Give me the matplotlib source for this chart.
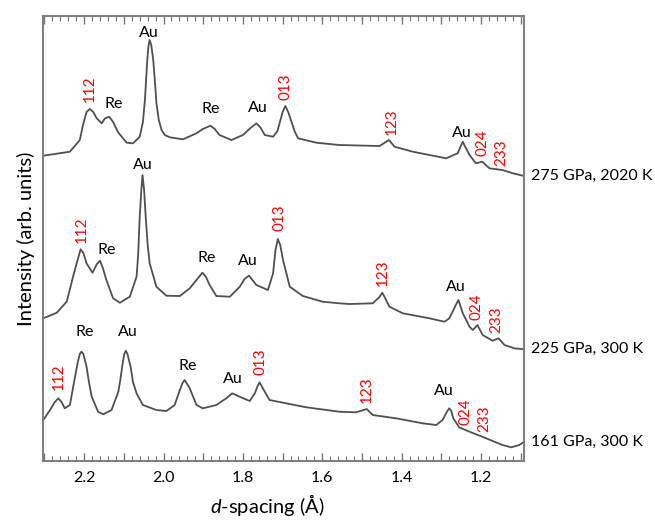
import matplotlib
matplotlib.use("Agg")
import matplotlib.pyplot as plt
from matplotlib.ticker import MultipleLocator, FuncFormatter

plt.rcParams['font.family'] = ['Lato', 'DejaVu Sans']
plt.rcParams['mathtext.fontset'] = 'custom'
plt.rcParams['mathtext.it'] = 'Lato:italic'
plt.rcParams['mathtext.rm'] = 'Lato'

# traces (d-spacing in Angstrom, stacked intensity in arb. units)
d_275 = [2.303, 2.236, 2.211, 2.203, 2.194, 2.186, 2.177, 2.169, 2.156, 2.148,
         2.137, 2.127, 2.115, 2.093, 2.077, 2.060, 2.052, 2.047, 2.041, 2.038,
         2.035, 2.031, 2.026, 2.022, 2.018, 2.012, 2.005, 1.997, 1.984, 1.951,
         1.917, 1.901, 1.882, 1.871, 1.859, 1.829, 1.800, 1.781, 1.766, 1.755,
         1.745, 1.724, 1.713, 1.700, 1.693, 1.686, 1.669, 1.661, 1.615, 1.557,
         1.456, 1.432, 1.418, 1.372, 1.288, 1.259, 1.251, 1.246, 1.241, 1.229,
         1.213, 1.197, 1.179, 1.146, 1.120, 1.091]
i_275 = [305.3, 309.3, 321, 336, 349, 352, 349, 343, 337.7, 342.5,
         344.3, 339, 329, 318.3, 317.7, 324.3, 339, 361, 401, 415,
         421, 416, 401, 381, 358, 341, 331, 326, 323.7, 321.7,
         327.7, 332, 335.3, 332, 326, 321, 326, 333, 337.7, 333,
         326, 324.3, 330, 349, 355, 349, 329, 322.7, 318.3, 316,
         315, 321, 314.3, 309.3, 302.7, 307.7, 315, 319.3, 315, 306,
         297.7, 299.3, 292.7, 291, 287.7, 285]

d_225 = [2.303, 2.269, 2.244, 2.228, 2.218, 2.209, 2.202, 2.194, 2.179, 2.168,
         2.160, 2.153, 2.144, 2.127, 2.110, 2.085, 2.068, 2.064, 2.060, 2.056,
         2.053, 2.049, 2.045, 2.040, 2.035, 2.018, 1.993, 1.959, 1.934, 1.913,
         1.902, 1.893, 1.884, 1.867, 1.833, 1.808, 1.796, 1.785, 1.776, 1.766,
         1.737, 1.724, 1.718, 1.712, 1.706, 1.699, 1.682, 1.649, 1.599, 1.557,
         1.531, 1.473, 1.456, 1.449, 1.443, 1.431, 1.397, 1.330, 1.292, 1.280,
         1.265, 1.257, 1.246, 1.229, 1.221, 1.209, 1.196, 1.171, 1.156, 1.141,
         1.116, 1.091]
i_225 = [142.7, 148.3, 159.3, 184.3, 199, 211.7, 208, 197.7, 188.3, 197,
         200.3, 193, 181, 162.7, 158.3, 164.3, 184.3, 206, 244.3, 271,
         286, 271, 244.3, 216, 197.7, 174.3, 165.3, 165, 172.7, 183,
         188.3, 184, 176, 165, 164.3, 174.3, 182, 185.3, 181, 176,
         171, 187.7, 211, 222, 216, 201, 174.3, 165, 159.3, 157.7,
         157, 157.7, 164, 168.3, 164, 154.3, 147.7, 142.7, 139.3, 142.7,
         155, 161, 147.7, 134.3, 131, 136, 126, 120.3, 122.7, 116,
         112.7, 111.7]

d_161 = [2.303, 2.286, 2.274, 2.265, 2.257, 2.249, 2.236, 2.223, 2.216, 2.211,
         2.207, 2.202, 2.194, 2.188, 2.181, 2.165, 2.152, 2.131, 2.114, 2.109,
         2.103, 2.099, 2.095, 2.091, 2.083, 2.077, 2.068, 2.052, 2.018, 1.993,
         1.972, 1.959, 1.952, 1.947, 1.942, 1.934, 1.917, 1.901, 1.867, 1.842,
         1.827, 1.808, 1.783, 1.770, 1.763, 1.758, 1.753, 1.745, 1.733, 1.691,
         1.640, 1.557, 1.515, 1.488, 1.473, 1.414, 1.347, 1.313, 1.297, 1.285,
         1.280, 1.275, 1.270, 1.255, 1.229, 1.187, 1.146, 1.124, 1.104, 1.091]
i_161 = [41, 51, 59, 62.7, 59, 52.7, 56, 84.3, 99, 107,
         109.3, 107, 94.3, 79, 64.3, 49.3, 46.7, 51, 69.3, 81,
         97.7, 107, 110.3, 107, 94.3, 79, 67.7, 56, 51, 50,
         56, 71, 78, 81, 78, 72.7, 56, 52.7, 56, 62.7,
         67.7, 64.3, 60, 67.7, 75, 78.7, 75, 69.3, 61, 57.7,
         53.7, 49.3, 48.7, 52, 46, 42.7, 37.7, 36, 41, 50,
         52.7, 50, 42.7, 33.7, 29.3, 22.7, 16, 13.7, 16, 19.3]

trace_labels = ['275 GPa, 2020 K', '225 GPa, 300 K', '161 GPa, 300 K']

# peak labels: (text, d, intensity)
peaks_275 = [('112', 2.187, 372), ('Re', 2.125, 357), ('Au', 2.036, 428),
             ('Re', 1.882, 352), ('Au', 1.762, 353), ('013', 1.692, 374),
             ('123', 1.426, 339), ('Au', 1.248, 328), ('024', 1.196, 318),
             ('233', 1.150, 308)]
peaks_225 = [('112', 2.207, 231), ('Re', 2.144, 211), ('Au', 2.052, 296),
             ('Re', 1.892, 203), ('Au', 1.787, 200), ('013', 1.708, 243),
             ('123', 1.448, 188), ('Au', 1.263, 174), ('024', 1.211, 154),
             ('233', 1.162, 141)]
peaks_161 = [('112', 2.265, 84), ('Re', 2.198, 129), ('Au', 2.089, 129),
             ('Re', 1.938, 95), ('Au', 1.825, 82), ('013', 1.756, 99),
             ('123', 1.488, 71), ('Au', 1.294, 70), ('024', 1.238, 49),
             ('233', 1.192, 42)]

fig = plt.figure(figsize=(6.55, 5.23), dpi=100)
ax = fig.add_axes([0.0661, 0.1185, 0.7344, 0.8509])

line_c = '#505050'
for d, inten, lab in [(d_275, i_275, trace_labels[0]),
                      (d_225, i_225, trace_labels[1]),
                      (d_161, i_161, trace_labels[2])]:
    ax.plot(d, inten, color=line_c, lw=1.3, solid_joinstyle='round')
    ax.annotate(lab, xy=(1.0, inten[-1]), xycoords=('axes fraction', 'data'),
                xytext=(5, 0), textcoords='offset points',
                ha='left', va='center', fontsize=11.5, color='black',
                annotation_clip=False)

for peaks in [peaks_275, peaks_225, peaks_161]:
    for txt, d, h in peaks:
        if txt in ('Re', 'Au'):
            ax.text(d, h, txt, ha='center', va='center', fontsize=11.5,
                    color='black')
        else:
            ax.text(d, h, txt, ha='center', va='center', fontsize=11,
                    color='red', rotation=90)

ax.set_xlim(2.303, 1.091)
ax.set_ylim(0, 445)

ax.xaxis.set_major_locator(MultipleLocator(0.1))
ax.xaxis.set_minor_locator(MultipleLocator(0.02))
ax.xaxis.set_major_formatter(FuncFormatter(
    lambda v, p: '%.1f' % v if abs(round(v * 10) % 2) == 0 else ''))
ax.tick_params(axis='x', which='both', direction='in', top=True,
               color='#777777', labelsize=11.5, pad=7)
ax.tick_params(axis='x', which='major', length=6, width=1)
ax.tick_params(axis='x', which='minor', length=3.5, width=0.8)
ax.set_yticks([])

for s in ax.spines.values():
    s.set_color('#808080')
    s.set_linewidth(1.5)

ax.set_ylabel('Intensity (arb. units)', fontsize=14.5, labelpad=6)
fig.text(0.408, 0.035, r'$d$-spacing (Å)', fontsize=14.5, ha='center',
         va='center')

fig.savefig('out.png', dpi=100)
